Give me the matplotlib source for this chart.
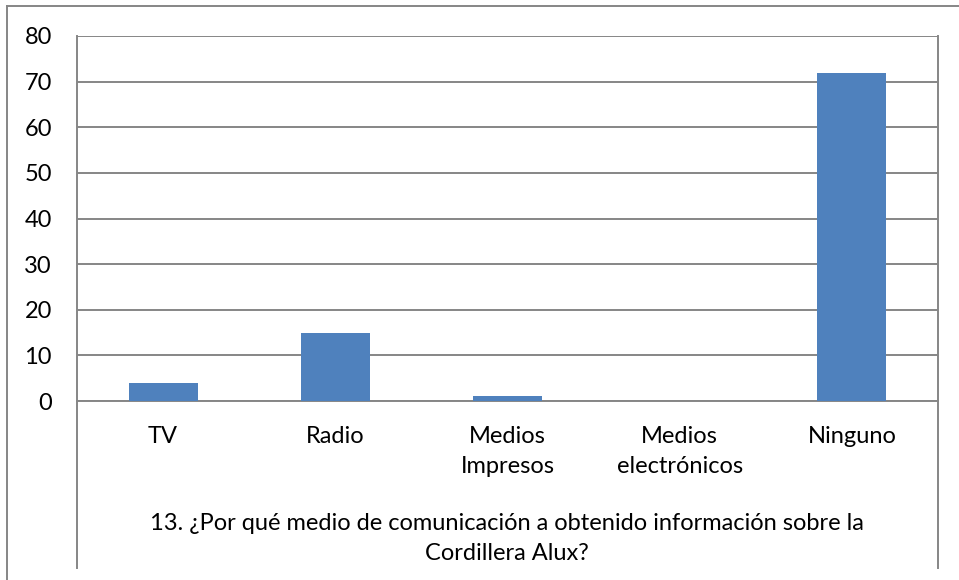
import matplotlib.pyplot as plt
import numpy as np
from matplotlib.lines import Line2D

plt.rcParams["font.family"] = ["Lato", "DejaVu Sans"]

categories = ["TV", "Radio", "Medios\nImpresos", "Medios\nelectrónicos", "Ninguno"]
values = [4, 15, 1, 0, 72]
yticks = [0, 10, 20, 30, 40, 50, 60, 70, 80]
title = "13. ¿Por qué medio de comunicación a obtenido información sobre la\nCordillera Alux?"

W, H = 959, 580
fig = plt.figure(figsize=(W / 100, H / 100), dpi=100)

# plot area in pixels
x0, x1, ytop, ybot = 77, 938, 36, 401
ax = fig.add_axes([x0 / W, 1 - ybot / H, (x1 - x0) / W, (ybot - ytop) / H])

grid_col = "#868686"
fs = 17
line_h = 30  # px between text lines
x = np.arange(len(categories))
ax.bar(x, values, width=0.4, color="#4F81BD", zorder=3)
ax.set_xlim(-0.5, len(categories) - 0.5)
ax.set_ylim(0, 80)
ax.set_yticks(yticks)
ax.set_yticklabels([str(v) for v in yticks], fontsize=fs)
ax.yaxis.grid(True, color=grid_col, linewidth=1.4, zorder=0)
ax.tick_params(axis="y", length=0, pad=18)
ax.tick_params(axis="x", length=0)
ax.set_xticks([])
for s in ["top", "right", "left"]:
    ax.spines[s].set_visible(False)
ax.spines["bottom"].set_color(grid_col)
ax.spines["bottom"].set_linewidth(1.4)


def fx(px):
    return px / W


def fy(py):
    return 1 - py / H


def lines_at(xf, base_px, txt):
    # one text per line so the first baseline sits where we want it
    for k, ln in enumerate(txt.split("\n")):
        fig.text(xf, fy(base_px + k * line_h), ln, ha="center",
                 va="baseline", fontsize=fs)


# category labels
for i, lab in enumerate(categories):
    xf = fig.transFigure.inverted().transform(ax.transData.transform((i, 0)))[0]
    lines_at(xf, 443, lab)

# plot area vertical border extending down past the labels
for px in (x0, x1):
    fig.add_artist(Line2D([fx(px), fx(px)], [fy(ytop), fy(568)],
                          color=grid_col, linewidth=1.4))

# outer chart frame
fig.add_artist(Line2D([fx(7), fx(7)], [fy(6), fy(580)], color=grid_col, linewidth=1.4))
fig.add_artist(Line2D([fx(7), fx(959)], [fy(6), fy(6)], color=grid_col, linewidth=1.4))

lines_at(fx(507), 530, title)

fig.savefig("out.png", dpi=100)
